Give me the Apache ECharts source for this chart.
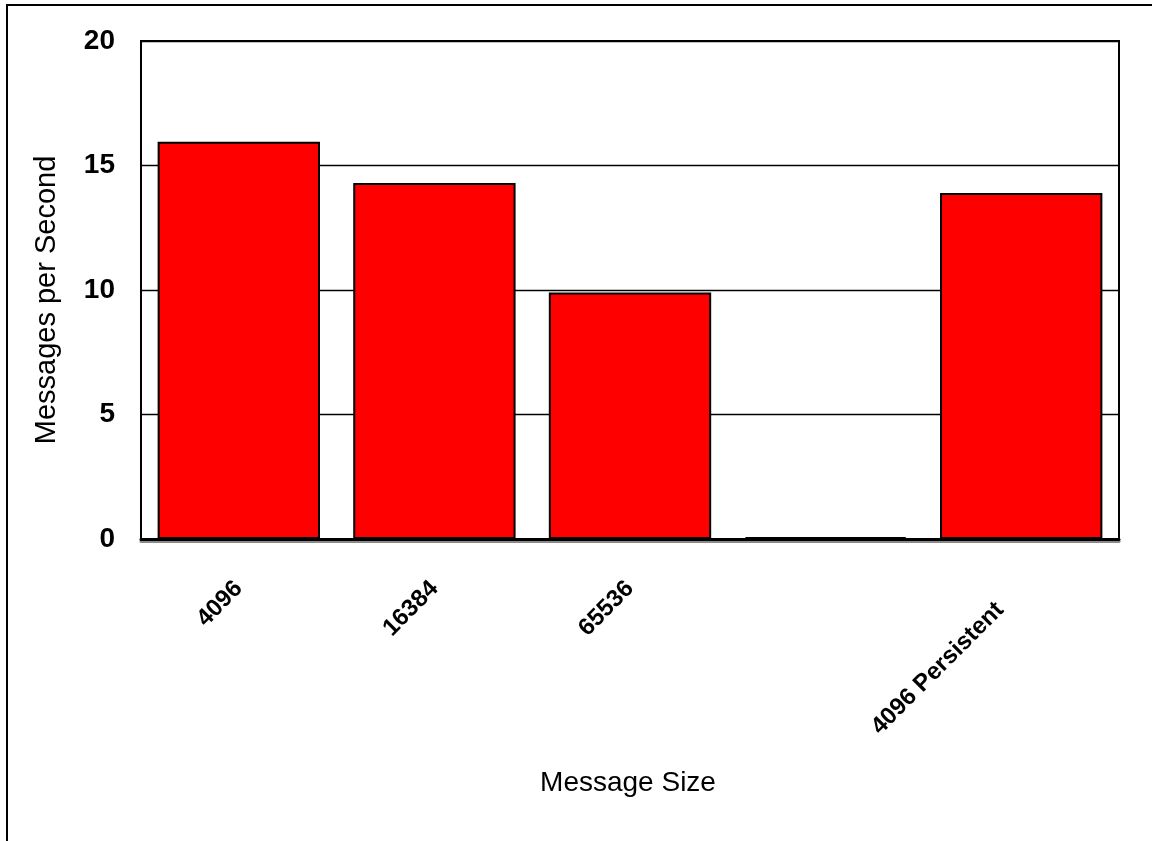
<!DOCTYPE html>
<html>
<head>
<meta charset="utf-8">
<style>
  html, body { margin: 0; padding: 0; background: #fff; }
  #chart { width: 1152px; height: 841px; }
</style>
<script src="https://cdn.jsdelivr.net/npm/echarts@6/dist/echarts.min.js"></script>
</head>
<body>
<div id="chart"></div>
<script>
// Message sizes tested (the fourth slot has no run label)
const categories = ['4096', '16384', '65536', '', '4096 Persistent'];
// Throughput for each message size
const messagesPerSecond = [15.95, 14.3, 9.9, 0.08, 13.9];
// Value axis range and step
const yMin = 0;
const yMax = 20;
const yStep = 5;

const FONT = "'Liberation Sans', Arial, sans-serif";

const chart = echarts.init(document.getElementById('chart'), null, { renderer: 'canvas' });

chart.setOption({
  backgroundColor: '#ffffff',
  animation: false,
  grid: {
    left: 141, top: 41, right: 33, bottom: 302,
    show: true,
    borderColor: '#000',
    borderWidth: 2,
    backgroundColor: 'transparent'
  },
  xAxis: {
    type: 'category',
    data: categories.map((c, i) => i === categories.length - 1
      ? { value: c, textStyle: { padding: [0, 30, 0, 0] } }
      : c),
    axisLine: {
      show: true,
      lineStyle: { color: '#000', width: 3, shadowColor: '#8a8a8a', shadowOffsetY: 2, shadowBlur: 0 }
    },
    axisTick: { show: false },
    axisLabel: {
      rotate: 45,
      margin: 46,
      interval: 0,
      color: '#000',
      fontFamily: FONT,
      fontWeight: 'bold',
      fontSize: 24
    },
    splitLine: { show: false }
  },
  yAxis: {
    type: 'value',
    min: yMin,
    max: yMax,
    interval: yStep,
    axisLine: { show: true, lineStyle: { color: '#000', width: 2 } },
    axisTick: { show: false },
    axisLabel: {
      margin: 26,
      color: '#000',
      fontFamily: FONT,
      fontWeight: 'bold',
      fontSize: 28
    },
    splitLine: { show: true, lineStyle: { color: '#000', width: 1.3 } }
  },
  series: [{
    type: 'bar',
    data: messagesPerSecond,
    barCategoryGap: '17%',
    itemStyle: {
      color: '#ff0000',
      borderColor: '#000',
      borderWidth: 2
    }
  }],
  graphic: [
    {
      type: 'rect',
      silent: true,
      z: -10,
      shape: { x: 7, y: 5, width: 1400, height: 1000 },
      style: { fill: 'none', stroke: '#000', lineWidth: 2 }
    },
    {
      type: 'text',
      x: 47, y: 300,
      rotation: Math.PI / 2,
      style: {
        text: 'Messages per Second',
        font: "29px 'Liberation Sans', Arial, sans-serif",
        fill: '#000',
        textAlign: 'center',
        textVerticalAlign: 'middle'
      }
    },
    {
      type: 'text',
      x: 628, y: 783,
      style: {
        text: 'Message Size',
        font: "28px 'Liberation Sans', Arial, sans-serif",
        fill: '#000',
        textAlign: 'center',
        textVerticalAlign: 'middle'
      }
    }
  ]
});
</script>
</body>
</html>
